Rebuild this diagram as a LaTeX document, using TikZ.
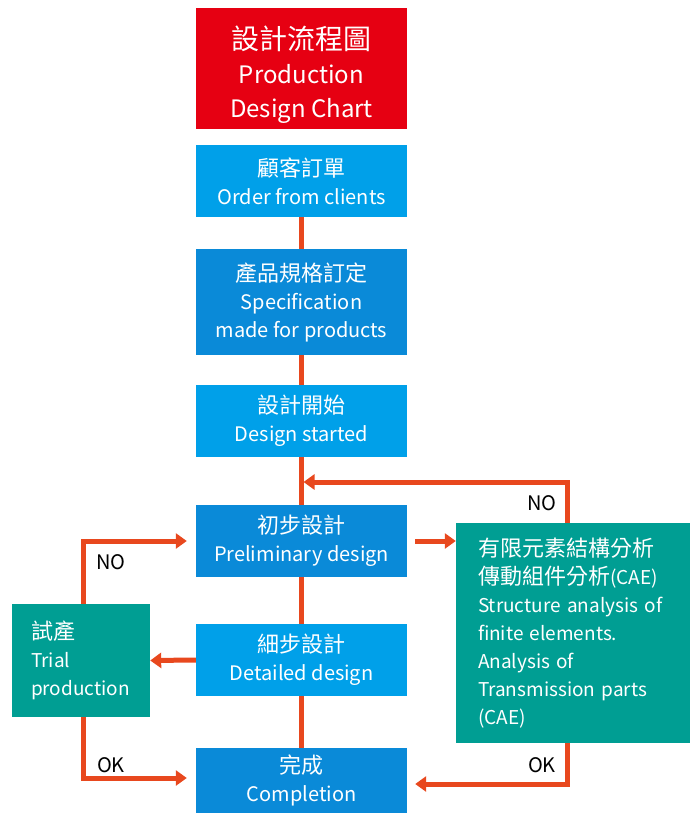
\documentclass[tikz,border=0pt]{standalone}
\usepackage{fontspec}
\setmainfont{Noto Sans CJK TC}
\usetikzlibrary{arrows.meta}
\definecolor{titlered}{HTML}{E60012}
\definecolor{lightblue}{HTML}{00A0E9}
\definecolor{darkblue}{HTML}{0A8AD8}
\definecolor{teal}{HTML}{009E93}
\definecolor{flowred}{HTML}{E8481E}
\newcommand\zh[1]{{\fontsize{22}{28}\selectfont #1}}

\begin{document}
\begin{tikzpicture}[x=1pt,y=-1pt,
	box/.style={text=white,align=center,minimum width=211pt,inner sep=0pt,
		font=\fontsize{20}{28}\selectfont},
	flow/.style={draw=flowred,line width=5pt,-{Triangle[width=15pt,length=11pt]}},
	trunk/.style={draw=flowred,line width=5pt},
	tag/.style={font=\fontsize{20}{22}\selectfont}]
	\useasboundingbox (0,0) rectangle (697,813);
	\node[box,fill=titlered,minimum height=121pt,font=\fontsize{24}{34}\selectfont] (title) at (301.5,68.5)
		{\rule{0pt}{36pt}{\fontsize{28}{34}\selectfont 設計流程圖}\\Production\\Design Chart};
	\node[box,fill=lightblue,minimum height=72pt] (order) at (301.5,181) {\zh{顧客訂單}\\Order from clients};
	\node[box,fill=darkblue,minimum height=106pt] (spec) at (301.5,302) {\zh{產品規格訂定}\\Specification\\made for products};
	\node[box,fill=lightblue,minimum height=72pt] (start) at (301.5,421) {\zh{設計開始}\\Design started};
	\node[box,fill=darkblue,minimum height=72pt] (prelim) at (301.5,541) {\zh{初步設計}\\Preliminary design};
	\node[box,fill=lightblue,minimum height=72pt] (detail) at (301.5,660) {\zh{細步設計}\\Detailed design};
	\node[box,fill=darkblue,minimum height=65pt] (done) at (301.5,780.5) {\zh{完成}\\Completion};
	\node[box,fill=teal,align=left,minimum width=138pt,minimum height=113pt,text width=100pt,
		font=\fontsize{19}{28}\selectfont] (trial) at (81,660.5)
		{\zh{試產}\\Trial\\production};
	\node[box,fill=teal,align=left,minimum width=234pt,minimum height=220pt,text width=190pt,
		font=\fontsize{19}{28}\selectfont] (cae) at (573,633)
		{\zh{有限元素結構分析}\\\zh{傳動組件分析}(CAE)\\Structure analysis of\\finite elements.\\Analysis of\\Transmission parts\\(CAE)};
	\coordinate (back) at (301.5,482);
	\draw[trunk] (order) -- (spec) (spec) -- (start) (start) -- (prelim) (prelim) -- (detail) (detail) -- (done);
	\draw[flow,shorten >=2pt] ([xshift=-6pt]cae.north) |- (back);
	\draw[flow,shorten <=8pt] (prelim.east) -- (prelim.east -| cae.west);
	\draw[flow,shorten >=9pt] ([xshift=2pt]trial.north) |- (prelim.west);
	\draw[flow] (detail.west) -- (trial.east);
	\draw[flow,shorten >=9pt] ([xshift=2pt]trial.south) |- ([yshift=2.5pt]done.west);
	\draw[flow,shorten >=8pt] ([xshift=-6pt]cae.south) |- ([yshift=-3.5pt]done.east);
	\node[tag] (no1) at (542,503) {NO};
	\node[tag] (no2) at (111,562) {NO};
	\node[tag] (ok1) at (111,765) {OK};
	\node[tag] (ok2) at (542,765) {OK};
\end{tikzpicture}
\end{document}
